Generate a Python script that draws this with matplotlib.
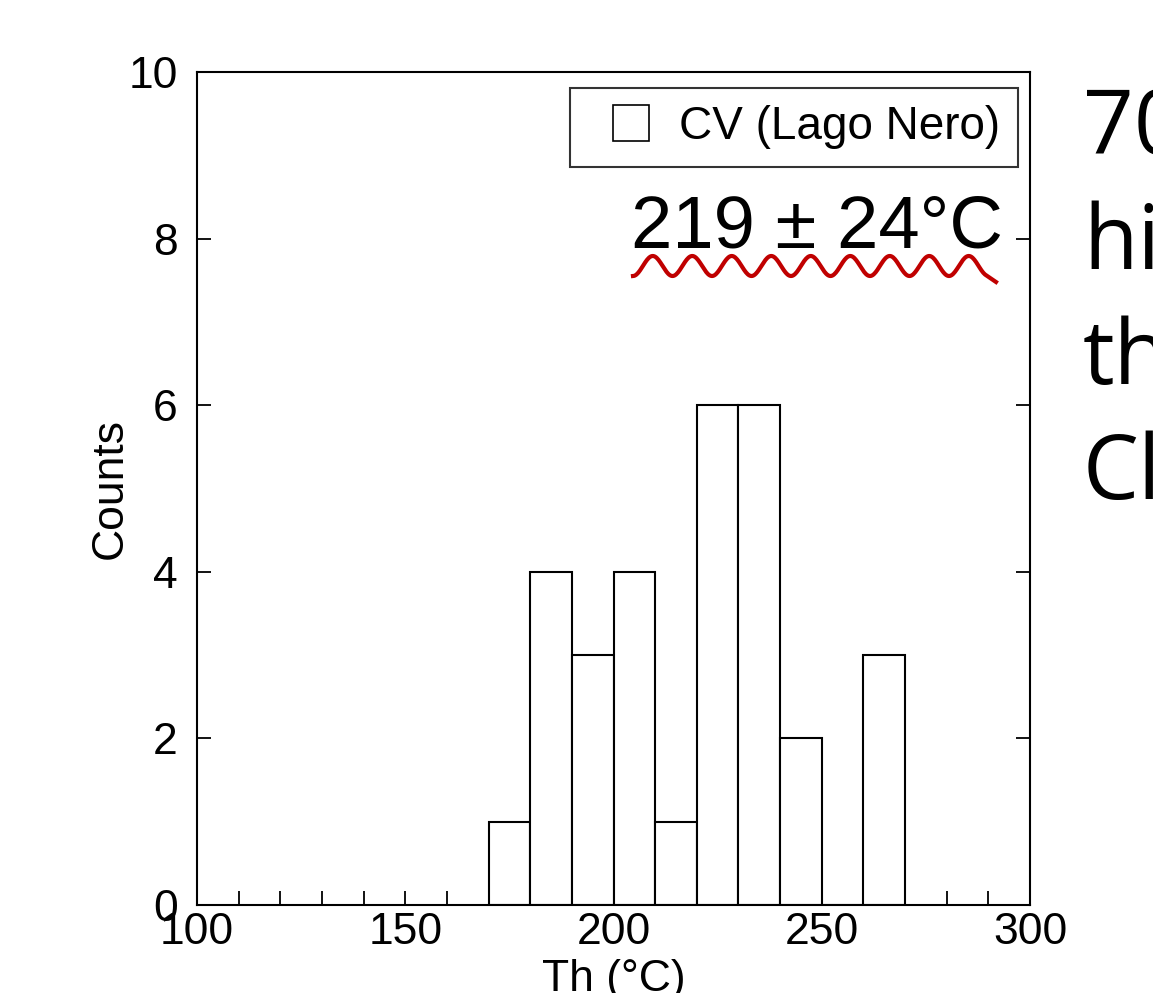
import numpy as np
import matplotlib
matplotlib.use("Agg")
import matplotlib.pyplot as plt
from matplotlib.lines import Line2D

# histogram of homogenisation temperatures
bin_edges = [170, 180, 190, 200, 210, 220, 230, 240, 250, 260, 270]
counts = [1, 4, 3, 4, 1, 6, 6, 2, 0, 3]
series_label = "CV (Lago Nero)"
mean_text = "219 \u00b1 24\u00b0C"
side_lines = ["70", "hi", "th", "Cl"]

plt.rcParams['font.family'] = ['Liberation Sans', 'DejaVu Sans']

W, H = 1153, 993
fig = plt.figure(figsize=(W / 100, H / 100), dpi=100)
ax = fig.add_axes([197 / W, 1 - 905 / H, (1030 - 197) / W, (905 - 72) / H])

lefts = bin_edges[:-1]
widths = np.diff(bin_edges)
ax.bar(lefts, counts, width=widths, align='edge', facecolor='white',
       edgecolor='black', linewidth=1.5, zorder=2)

ax.set_xlim(100, 300)
ax.set_ylim(0, 10)
ax.set_xticks([100, 150, 200, 250, 300])
ax.set_xticks(np.arange(100, 301, 10), minor=True)
ax.set_yticks([0, 2, 4, 6, 8, 10])
ax.tick_params(axis='both', which='both', direction='in', length=10, width=1.3,
               labelsize=32, top=False, right=True, zorder=3)
ax.tick_params(axis='x', pad=5)
ax.tick_params(axis='y', pad=14)
for s in ax.spines.values():
    s.set_linewidth(1.5)
    s.set_zorder(4)

ax.set_ylabel("Counts", fontsize=32, labelpad=-2)
ax.set_xlabel("Th (\u00b0C)", fontsize=32, labelpad=4)

# legend box with open square marker
handle = Line2D([], [], linestyle='none', marker='s', markersize=26.5,
                markerfacecolor='white', markeredgecolor='black', markeredgewidth=1.2)
leg = ax.legend([handle], [series_label], loc='upper right', fontsize=33,
                frameon=True, fancybox=False, edgecolor='black',
                bbox_to_anchor=((1018 - 197) / 833, (905 - 88) / 833),
                borderpad=0.38, handlelength=1.9, handletextpad=0.1,
                borderaxespad=0)
leg.get_frame().set_linewidth(1.5)

# mean annotation with red squiggle underline
fig.text(1003 / W, 1 - 247 / H, mean_text, fontsize=53.5, ha='right', va='baseline')
xs = np.linspace(633, 985, 400)
ys = 266 + 10 * np.sin((xs - 633) / 39.5 * 2 * np.pi + np.pi / 2)
xs = np.append(xs, 996)
ys = np.append(ys, 282)
fig.add_artist(Line2D(xs / W, 1 - ys / H, color='#c00000', linewidth=3.0))

# clipped slide text on the right
for i, line in enumerate(side_lines):
    fig.text(1083 / W, 1 - (154 + 115 * i) / H, line, fontsize=64,
             family=['Open Sans', 'DejaVu Sans'], ha='left', va='baseline')

fig.savefig("out.png", dpi=100, facecolor='white')
